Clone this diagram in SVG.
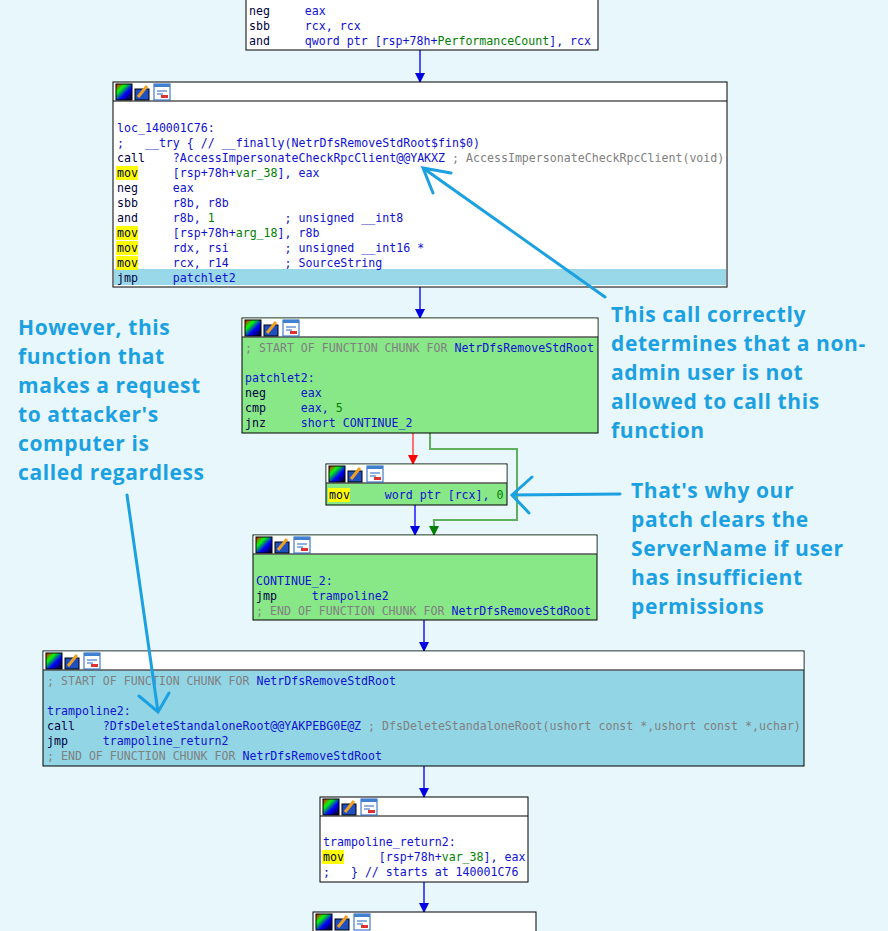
<svg xmlns="http://www.w3.org/2000/svg" width="888" height="931" viewBox="0 0 888 931">
<style>
.c{font-family:"DejaVu Sans Mono",monospace;font-size:11.6px;fill:#000040;white-space:pre}
.o{fill:#1010d0}.g{fill:#808080}.n{fill:#008000}.bl{fill:#1010d0}
.blk{stroke:#000;stroke-width:1}
.ann{font-family:"Open Sans","DejaVu Sans",sans-serif;font-weight:bold;font-size:21px;letter-spacing:0.6px;fill:#1ba1e2}
.aa{stroke:#1ba1e2;stroke-width:3;fill:none;stroke-linecap:round}
.e{stroke:#5050ff;stroke-width:2;fill:none}
.hl{fill:#ffff00}
</style>
<defs>
<linearGradient id="rb" x1="0" y1="0" x2="1" y2="1"><stop offset="0" stop-color="#f00"/><stop offset=".3" stop-color="#0f0"/><stop offset=".6" stop-color="#00f"/><stop offset="1" stop-color="#000"/></linearGradient>
<g id="ic">
<rect x="0" y="0" width="16" height="16" fill="url(#rb)" stroke="#000"/>
<rect x="19" y="5" width="14" height="11" fill="#2050c0" stroke="#000"/>
<path d="M22 13 L31 2" stroke="#f0a020" stroke-width="3"/>
<rect x="38" y="0" width="16" height="16" fill="#fff" stroke="#2060c0"/>
<rect x="38" y="0" width="16" height="3" fill="#4080d0"/>
<path d="M41 7h10M41 10h6" stroke="#2060c0"/><rect x="45" y="11" width="7" height="3" fill="#e03030"/>
</g>
<marker id="ab" markerWidth="10" markerHeight="10" refX="9" refY="5" orient="auto" markerUnits="userSpaceOnUse"><path d="M0 0 L10 5 L0 10z" fill="#0000e0"/></marker>
<marker id="ar" markerWidth="10" markerHeight="10" refX="9" refY="5" orient="auto" markerUnits="userSpaceOnUse"><path d="M0 0 L10 5 L0 10z" fill="#ff0000"/></marker>
<marker id="ag" markerWidth="10" markerHeight="10" refX="9" refY="5" orient="auto" markerUnits="userSpaceOnUse"><path d="M0 0 L10 5 L0 10z" fill="#008000"/></marker>
</defs>
<rect width="888" height="931" fill="#e8f7fc"/>

<g id="connectors">
<path class="e" d="M420 50V82" marker-end="url(#ab)"/>
<path class="e" d="M420 287V318" marker-end="url(#ab)"/>
<path d="M413 433V464" stroke="#ff7070" stroke-width="2" fill="none" marker-end="url(#ar)"/>
<path d="M430 433V449H517V520H434V535" stroke="#60b060" stroke-width="2" fill="none" marker-end="url(#ag)"/>
<path class="e" d="M415 505V535" marker-end="url(#ab)"/>
<path class="e" d="M424 620V651" marker-end="url(#ab)"/>
<path class="e" d="M424 766V797" marker-end="url(#ab)"/>
<path class="e" d="M424 882V912" marker-end="url(#ab)"/>
</g>

<g id="b1">
<rect class="blk" x="246" y="-2" width="352" height="52" fill="#fff"/>
<text class="c" x="249" y="15">neg     <tspan class="o">eax</tspan></text>
<text class="c" x="249" y="30">sbb     <tspan class="o">rcx, rcx</tspan></text>
<text class="c" x="249" y="45">and     <tspan class="o">qword ptr [rsp+78h+</tspan><tspan class="n">PerformanceCount</tspan><tspan class="o">], rcx</tspan></text>
</g>

<g id="b2">
<rect class="blk" x="113" y="82" width="614" height="205" fill="#fff"/>
<line class="blk" x1="113" y1="101" x2="727" y2="101"/>
<use href="#ic" x="116" y="84"/>
<rect x="114" y="269" width="612" height="16" fill="#98d8e8"/>
<rect class="hl" x="116" y="166" width="22" height="14"/>
<rect class="hl" x="116" y="226" width="22" height="14"/>
<rect class="hl" x="116" y="241" width="22" height="14"/>
<rect class="hl" x="116" y="256" width="22" height="14"/>
<text class="c" x="117" y="132"><tspan class="bl">loc_140001C76:</tspan></text>
<text class="c" x="117" y="147"><tspan class="bl">;   __try { // __finally(NetrDfsRemoveStdRoot$fin$0)</tspan></text>
<text class="c" x="117" y="162">call    <tspan class="o">?AccessImpersonateCheckRpcClient@@YAKXZ</tspan><tspan class="g"> ; AccessImpersonateCheckRpcClient(void)</tspan></text>
<text class="c" x="117" y="177">mov     <tspan class="o">[rsp+78h+</tspan><tspan class="n">var_38</tspan><tspan class="o">], eax</tspan></text>
<text class="c" x="117" y="192">neg     <tspan class="o">eax</tspan></text>
<text class="c" x="117" y="207">sbb     <tspan class="o">r8b, r8b</tspan></text>
<text class="c" x="117" y="222">and     <tspan class="o">r8b, </tspan><tspan class="n">1</tspan><tspan class="o">          ; unsigned __int8</tspan></text>
<text class="c" x="117" y="237">mov     <tspan class="o">[rsp+78h+</tspan><tspan class="n">arg_18</tspan><tspan class="o">], r8b</tspan></text>
<text class="c" x="117" y="252">mov     <tspan class="o">rdx, rsi        ; unsigned __int16 *</tspan></text>
<text class="c" x="117" y="267">mov     <tspan class="o">rcx, r14        ; SourceString</tspan></text>
<text class="c" x="117" y="282">jmp     <tspan class="o">patchlet2</tspan></text>
</g>

<g id="b3">
<rect class="blk" x="242" y="318" width="356" height="115" fill="#88e888"/>
<rect x="242.5" y="318.5" width="355" height="19" fill="#fff"/>
<line class="blk" x1="242" y1="337" x2="598" y2="337"/>
<use href="#ic" x="245" y="320"/>
<text class="c" x="245" y="352"><tspan class="g">; START OF FUNCTION CHUNK FOR </tspan><tspan class="bl">NetrDfsRemoveStdRoot</tspan></text>
<text class="c" x="245" y="382"><tspan class="bl">patchlet2:</tspan></text>
<text class="c" x="245" y="397">neg     <tspan class="o">eax</tspan></text>
<text class="c" x="245" y="412">cmp     <tspan class="o">eax, </tspan><tspan class="n">5</tspan></text>
<text class="c" x="245" y="427">jnz     <tspan class="o">short CONTINUE_2</tspan></text>
</g>

<g id="b4">
<rect class="blk" x="326" y="464" width="181" height="41" fill="#88e888"/>
<rect x="326.5" y="464.5" width="180" height="19" fill="#fff"/>
<line class="blk" x1="326" y1="483" x2="507" y2="483"/>
<use href="#ic" x="329" y="466"/>
<rect class="hl" x="328" y="488" width="22" height="14"/>
<text class="c" x="329" y="499">mov     <tspan class="o">word ptr [rcx], </tspan><tspan class="n">0</tspan></text>
</g>

<g id="b5">
<rect class="blk" x="253" y="535" width="344" height="85" fill="#88e888"/>
<rect x="253.5" y="535.5" width="343" height="19" fill="#fff"/>
<line class="blk" x1="253" y1="554" x2="597" y2="554"/>
<use href="#ic" x="256" y="537"/>
<text class="c" x="256" y="585"><tspan class="bl">CONTINUE_2:</tspan></text>
<text class="c" x="256" y="600">jmp     <tspan class="o">trampoline2</tspan></text>
<text class="c" x="256" y="615"><tspan class="g">; END OF FUNCTION CHUNK FOR </tspan><tspan class="bl">NetrDfsRemoveStdRoot</tspan></text>
</g>

<g id="b6">
<rect class="blk" x="43" y="651" width="761" height="115" fill="#92d6e6"/>
<rect x="43.5" y="651.5" width="760" height="19" fill="#fff"/>
<line class="blk" x1="43" y1="670" x2="804" y2="670"/>
<use href="#ic" x="46" y="653"/>
<text class="c" x="47" y="685"><tspan class="g">; START OF FUNCTION CHUNK FOR </tspan><tspan class="bl">NetrDfsRemoveStdRoot</tspan></text>
<text class="c" x="47" y="715"><tspan class="bl">trampoline2:</tspan></text>
<text class="c" x="47" y="730">call    <tspan class="o">?DfsDeleteStandaloneRoot@@YAKPEBG0E@Z</tspan><tspan class="g"> ; DfsDeleteStandaloneRoot(ushort const *,ushort const *,uchar)</tspan></text>
<text class="c" x="47" y="745">jmp     <tspan class="o">trampoline_return2</tspan></text>
<text class="c" x="47" y="760"><tspan class="g">; END OF FUNCTION CHUNK FOR </tspan><tspan class="bl">NetrDfsRemoveStdRoot</tspan></text>
</g>

<g id="b7">
<rect class="blk" x="320" y="797" width="208" height="85" fill="#fff"/>
<line class="blk" x1="320" y1="816" x2="528" y2="816"/>
<use href="#ic" x="323" y="799"/>
<rect class="hl" x="322" y="850" width="22" height="14"/>
<text class="c" x="323" y="846"><tspan class="bl">trampoline_return2:</tspan></text>
<text class="c" x="323" y="861">mov     <tspan class="o">[rsp+78h+</tspan><tspan class="n">var_38</tspan><tspan class="o">], eax</tspan></text>
<text class="c" x="323" y="876"><tspan class="bl">;   } // starts at 140001C76</tspan></text>
</g>

<g id="b8">
<rect class="blk" x="313" y="912" width="223" height="30" fill="#fff"/>
<use href="#ic" x="316" y="914"/>
</g>

<g id="annotations">
<text class="ann" x="18" y="335">However, this</text>
<text class="ann" x="18" y="364">function that</text>
<text class="ann" x="18" y="393">makes a request</text>
<text class="ann" x="18" y="422">to attacker's</text>
<text class="ann" x="18" y="451">computer is</text>
<text class="ann" x="18" y="480">called regardless</text>
<text class="ann" x="611" y="322">This call correctly</text>
<text class="ann" x="611" y="351">determines that a non-</text>
<text class="ann" x="611" y="380">admin user is not</text>
<text class="ann" x="611" y="409">allowed to call this</text>
<text class="ann" x="611" y="438">function</text>
<text class="ann" x="631" y="498">That's why our</text>
<text class="ann" x="631" y="527">patch clears the</text>
<text class="ann" x="631" y="556">ServerName if user</text>
<text class="ann" x="631" y="585">has insufficient</text>
<text class="ann" x="631" y="614">permissions</text>
<path class="aa" d="M605 297L423 168M451 173L423 168L433 193"/>
<path class="aa" d="M620 494L512 495M532 477L512 495L529 513"/>
<path class="aa" d="M127 495L158 712M139 696L158 712L169 693"/>
</g>
</svg>
